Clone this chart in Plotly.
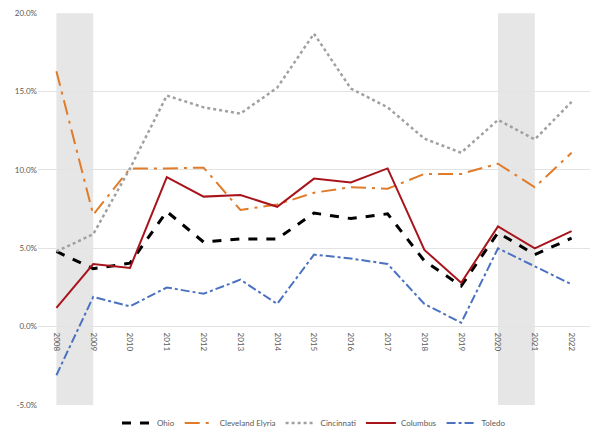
import plotly.graph_objects as go

years = list(range(2008, 2023))
ohio = [4.8, 3.7, 4.05, 7.35, 5.4, 5.6, 5.6, 7.25, 6.9, 7.2, 4.2, 2.6, 6.0, 4.6, 5.65]
cleveland = [16.3, 7.15, 10.1, 10.1, 10.15, 7.45, 7.8, 8.55, 8.9, 8.8, 9.75, 9.75, 10.4, 8.9, 11.1]
cincinnati = [4.8, 5.9, 10.1, 14.75, 14.0, 13.6, 15.25, 18.7, 15.2, 14.0, 12.0, 11.1, 13.2, 11.95, 14.35]
columbus = [1.2, 4.0, 3.75, 9.55, 8.3, 8.4, 7.65, 9.45, 9.2, 10.1, 4.9, 2.8, 6.4, 5.0, 6.1]
toledo = [-3.1, 1.9, 1.3, 2.5, 2.1, 3.0, 1.45, 4.6, 4.35, 4.0, 1.45, 0.25, 5.0, 3.85, 2.7]
recessions = [(2008, 2009), (2020, 2021)]
y_ticks = [-5, 0, 5, 10, 15, 20]
y_tick_labels = ["-5.0%", "0.0%", "5.0%", "10.0%", "15.0%", "20.0%"]

series = [
    ("Ohio", ohio, dict(color="#000000", width=3, dash="dash")),
    ("Cleveland Elyria", cleveland, dict(color="#E07B2A", width=2, dash="longdashdot")),
    ("Cincinnati", cincinnati, dict(color="#A0A0A0", width=2.5, dash="dot")),
    ("Columbus", columbus, dict(color="#A8141C", width=2)),
    ("Toledo", toledo, dict(color="#4A72C0", width=2, dash="dashdot")),
]

fig = go.Figure()
for name, vals, line in series:
    fig.add_trace(go.Scatter(x=years, y=vals, mode="lines", name=name, line=line))

for x0, x1 in recessions:
    fig.add_shape(type="rect", xref="x", yref="y", x0=x0, x1=x1, y0=-5, y1=20,
                  fillcolor="#E6E6E6", line_width=0, layer="below")

# page has an 8px body margin, so the figure is sized/margined to compensate
W, H = 592, 429
ml, mr, mt, mb = 30, 10, 5, 32
pw, ph = W - ml - mr, H - mt - mb

font = dict(family="Lato, Liberation Sans, sans-serif", size=8, color="#595959")
fig.update_layout(
    width=W, height=H,
    margin=dict(l=ml, r=mr, t=mt, b=mb, autoexpand=False),
    paper_bgcolor="white", plot_bgcolor="white",
    font=font,
    showlegend=True,
    legend=dict(orientation="h", x=0.5, xanchor="center", y=-(18 / ph), yanchor="middle",
                font=dict(size=8, color="#595959"), itemwidth=30, tracegroupgap=0),
    xaxis=dict(range=[2007.5, 2022.5], tickmode="array", tickvals=years,
               ticktext=[str(y) for y in years], tickangle=90, automargin=False,
               anchor="free", position=5 / 25, showgrid=False, zeroline=False,
               ticklabelstandoff=5,
               showline=False, ticks="", tickfont=dict(size=8, color="#595959")),
    yaxis=dict(range=[-5, 20.02], tickmode="array", tickvals=y_ticks, ticktext=y_tick_labels,
               automargin=False, ticklabeloverflow="allow",
               showgrid=True, gridcolor="#E3E3E3", gridwidth=1, zeroline=False,
               showline=False, ticks="", tickfont=dict(size=8, color="#595959")),
)

fig.write_html("out.html")
